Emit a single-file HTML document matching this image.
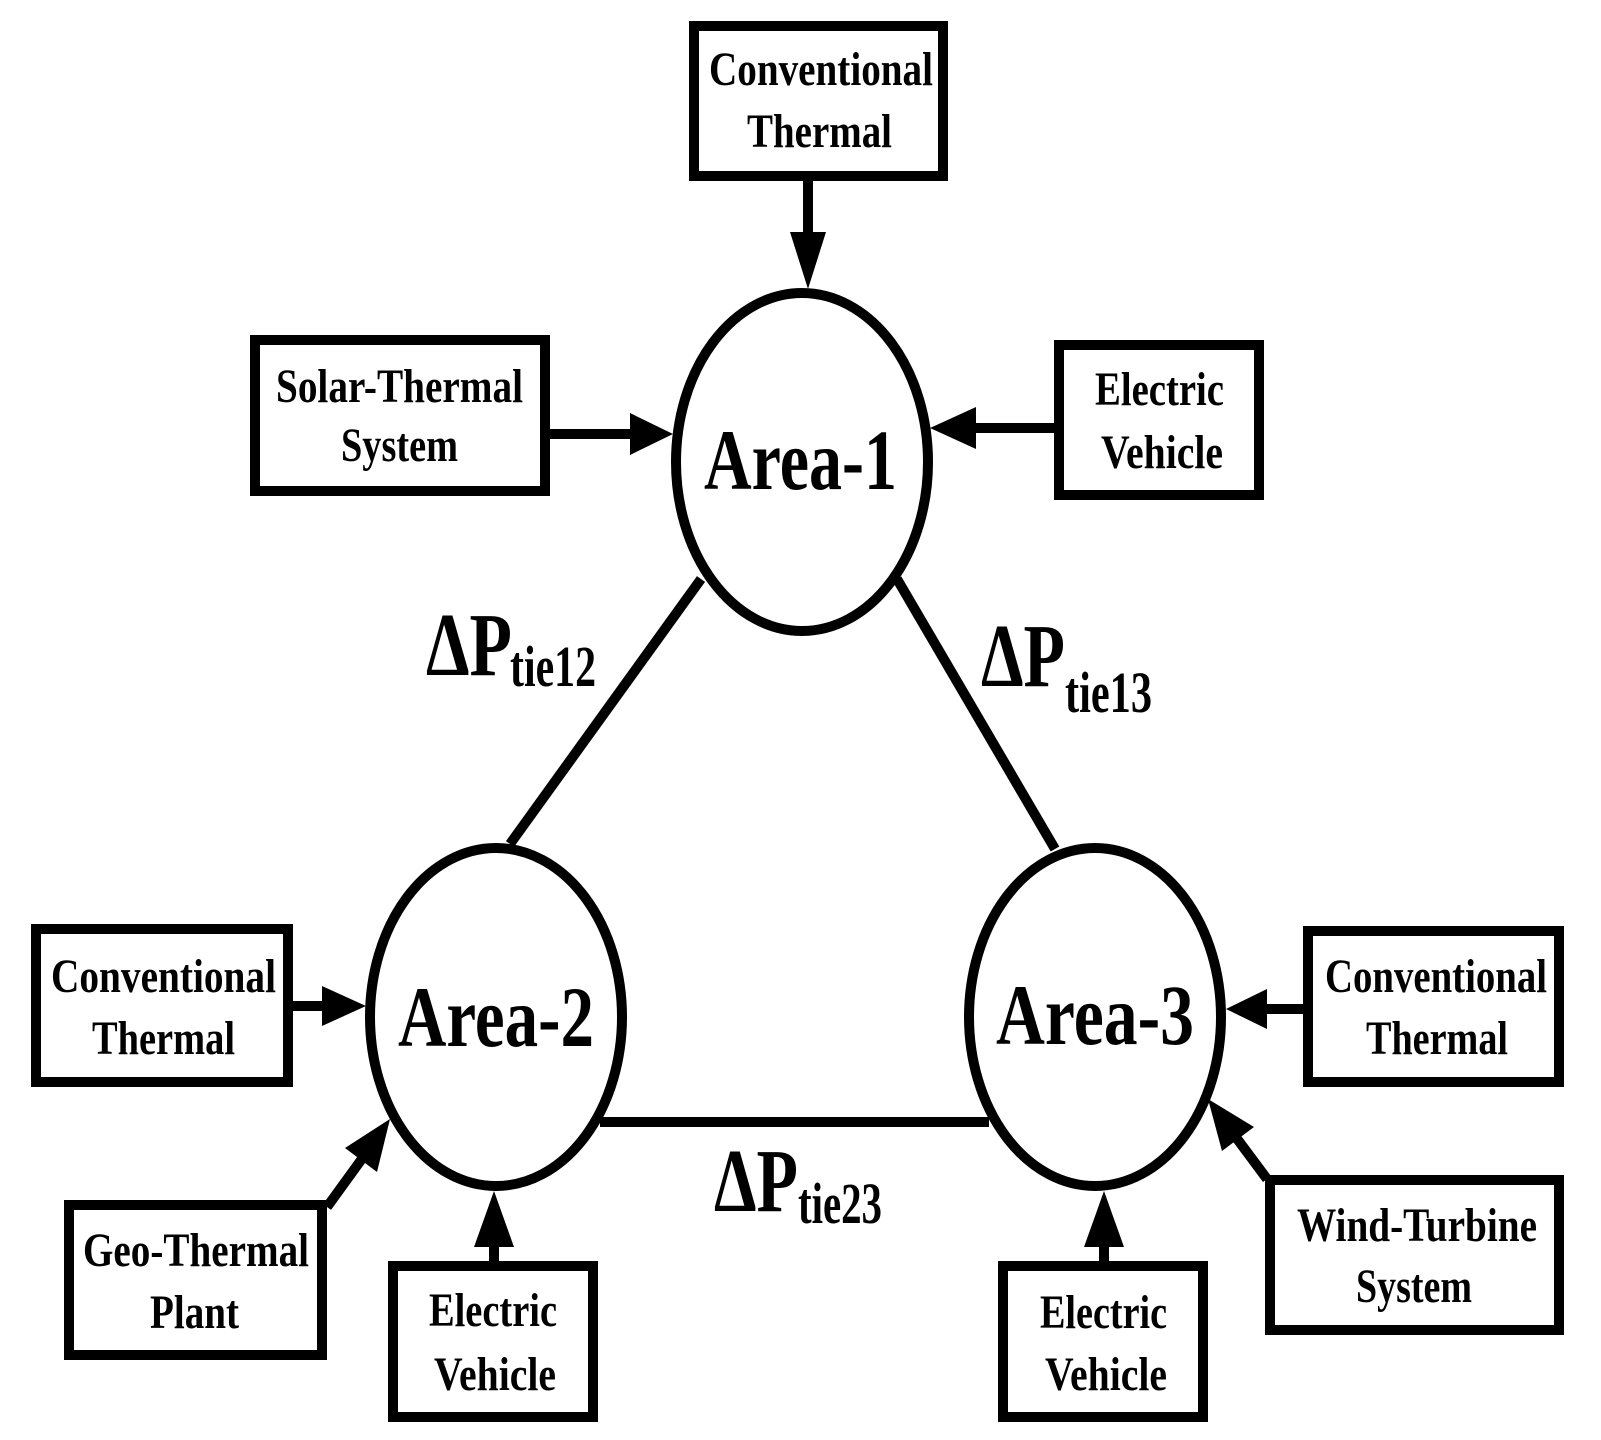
<!DOCTYPE html>
<html><head><meta charset="utf-8"><style>html,body{margin:0;padding:0;background:#fff}svg{display:block}text{font-family:"Liberation Serif",serif;font-weight:bold;fill:#000}</style></head>
<body>
<svg width="1601" height="1440" viewBox="0 0 1601 1440" xmlns="http://www.w3.org/2000/svg">
<g fill="none" stroke="#000" stroke-width="10">
<rect x="694" y="26" width="249" height="150"/>
<rect x="255" y="340" width="290" height="151"/>
<rect x="1059" y="345" width="200" height="150"/>
<rect x="36" y="929" width="252" height="153"/>
<rect x="69" y="1205" width="253" height="150"/>
<rect x="393" y="1266" width="200" height="151"/>
<rect x="1308" y="931" width="251" height="151"/>
<rect x="1270" y="1180" width="289" height="150"/>
<rect x="1003" y="1266" width="200" height="151"/>
<ellipse cx="802" cy="462" rx="126" ry="169"/>
<ellipse cx="496" cy="1017" rx="126" ry="169"/>
<ellipse cx="1095" cy="1017" rx="126" ry="169"/>
<line x1="701" y1="579" x2="510" y2="844"/>
<line x1="897" y1="579" x2="1055" y2="849"/>
<line x1="600" y1="1122" x2="989" y2="1122"/>
<line x1="808" y1="181" x2="808" y2="240"/>
<line x1="550" y1="434" x2="635" y2="434"/>
<line x1="1054" y1="428" x2="972" y2="428"/>
<line x1="293" y1="1006" x2="326" y2="1006"/>
<line x1="327" y1="1207" x2="364" y2="1156"/>
<line x1="494" y1="1261" x2="494" y2="1242"/>
<line x1="1303" y1="1009" x2="1262" y2="1009"/>
<line x1="1267" y1="1179" x2="1235" y2="1136"/>
<line x1="1104" y1="1261" x2="1104" y2="1242"/>
</g>
<g fill="#000">
<polygon points="790,232 826,232 808,289"/>
<polygon points="630,413 630,455 673,434"/>
<polygon points="976,407 976,449 930,428"/>
<polygon points="322,986 322,1026 366,1006"/>
<polygon points="377,1172 345,1148 390,1119"/>
<polygon points="474,1247 514,1247 494,1191"/>
<polygon points="1267,989 1267,1029 1226,1009"/>
<polygon points="1254,1127 1222,1151 1208,1099"/>
<polygon points="1084,1247 1124,1247 1104,1191"/>
</g>
<g font-size="48" lengthAdjust="spacingAndGlyphs">
<text x="709" y="85" textLength="224" lengthAdjust="spacingAndGlyphs">Conventional</text>
<text x="747" y="147" textLength="145" lengthAdjust="spacingAndGlyphs">Thermal</text>
<text x="276" y="402" textLength="247" lengthAdjust="spacingAndGlyphs">Solar-Thermal</text>
<text x="341" y="461" textLength="117" lengthAdjust="spacingAndGlyphs">System</text>
<text x="1095" y="405" textLength="129" lengthAdjust="spacingAndGlyphs">Electric</text>
<text x="1101" y="468" textLength="122" lengthAdjust="spacingAndGlyphs">Vehicle</text>
<text x="51" y="992" textLength="225" lengthAdjust="spacingAndGlyphs">Conventional</text>
<text x="92" y="1054" textLength="143" lengthAdjust="spacingAndGlyphs">Thermal</text>
<text x="83" y="1266" textLength="226" lengthAdjust="spacingAndGlyphs">Geo-Thermal</text>
<text x="150" y="1328" textLength="89" lengthAdjust="spacingAndGlyphs">Plant</text>
<text x="429" y="1326" textLength="128" lengthAdjust="spacingAndGlyphs">Electric</text>
<text x="434" y="1390" textLength="122" lengthAdjust="spacingAndGlyphs">Vehicle</text>
<text x="1325" y="992" textLength="222" lengthAdjust="spacingAndGlyphs">Conventional</text>
<text x="1366" y="1054" textLength="142" lengthAdjust="spacingAndGlyphs">Thermal</text>
<text x="1297" y="1241" textLength="240" lengthAdjust="spacingAndGlyphs">Wind-Turbine</text>
<text x="1356" y="1302" textLength="116" lengthAdjust="spacingAndGlyphs">System</text>
<text x="1040" y="1328" textLength="127" lengthAdjust="spacingAndGlyphs">Electric</text>
<text x="1045" y="1390" textLength="122" lengthAdjust="spacingAndGlyphs">Vehicle</text>
</g>
<text x="704" y="489" font-size="86" textLength="193" lengthAdjust="spacingAndGlyphs">Area-1</text>
<text x="398" y="1046" font-size="86" textLength="196" lengthAdjust="spacingAndGlyphs">Area-2</text>
<text x="996" y="1044" font-size="86" textLength="198" lengthAdjust="spacingAndGlyphs">Area-3</text>
<text x="426" y="675" font-size="90" textLength="86" lengthAdjust="spacingAndGlyphs">ΔP</text>
<text x="510" y="686" font-size="58" textLength="86" lengthAdjust="spacingAndGlyphs">tie12</text>
<text x="981" y="686" font-size="90" textLength="84" lengthAdjust="spacingAndGlyphs">ΔP</text>
<text x="1065" y="712" font-size="58" textLength="87" lengthAdjust="spacingAndGlyphs">tie13</text>
<text x="714" y="1211" font-size="90" textLength="84" lengthAdjust="spacingAndGlyphs">ΔP</text>
<text x="798" y="1223" font-size="58" textLength="84" lengthAdjust="spacingAndGlyphs">tie23</text>
</svg>
</body></html>
